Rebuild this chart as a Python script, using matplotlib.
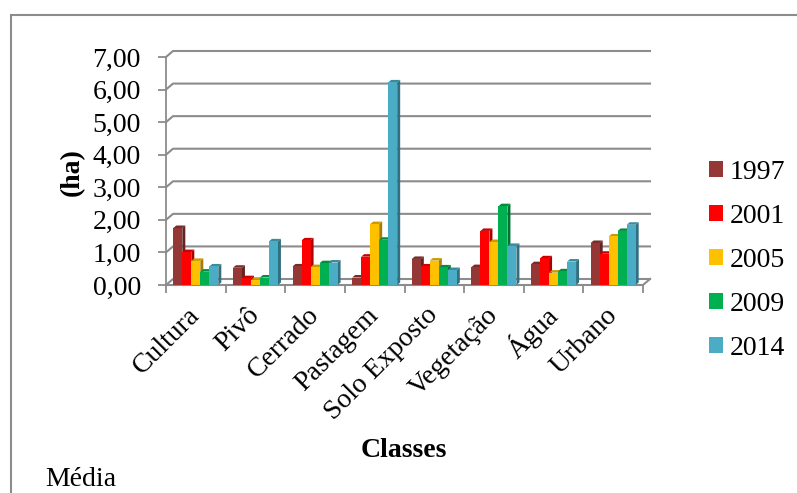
import matplotlib
matplotlib.use("Agg")
import matplotlib.pyplot as plt
from matplotlib.patches import Polygon, Rectangle
from matplotlib.lines import Line2D
import numpy as np

categories = ["Cultura", "Pivô", "Cerrado", "Pastagem", "Solo Exposto", "Vegetação", "Água", "Urbano"]
years = ["1997", "2001", "2005", "2009", "2014"]
v1997 = [1.75, 0.53, 0.57, 0.23, 0.80, 0.55, 0.64, 1.29]
v2001 = [1.01, 0.21, 1.37, 0.87, 0.57, 1.66, 0.82, 0.96]
v2005 = [0.74, 0.16, 0.55, 1.87, 0.75, 1.32, 0.38, 1.49]
v2009 = [0.41, 0.23, 0.67, 1.39, 0.54, 2.42, 0.42, 1.66]
v2014 = [0.57, 1.34, 0.69, 6.22, 0.46, 1.20, 0.72, 1.85]
yticks = [0, 1, 2, 3, 4, 5, 6, 7]
ytick_labels = ["0,00", "1,00", "2,00", "3,00", "4,00", "5,00", "6,00", "7,00"]
series = [v1997, v2001, v2005, v2009, v2014]
colors = ["#953735", "#FF0000", "#FFC000", "#00B050", "#4BACC6"]

plt.rcParams['font.family'] = ['Liberation Serif', 'DejaVu Serif']
FS = 20
W, H = 797, 493
fig = plt.figure(figsize=(W / 100, H / 100), dpi=100)

# axes in pixel geometry (front plane)
x0, x1 = 166, 643
y0, y1 = 285, 57
ax = fig.add_axes([x0 / W, 1 - y0 / H, (x1 - x0) / W, (y0 - y1) / H])
n = len(categories)
ax.set_xlim(0, n)
ax.set_ylim(0, 7)
ax.set_facecolor('none')
for s in ['top', 'right', 'bottom']:
    ax.spines[s].set_visible(False)
ax.spines['left'].set_color('#8c8c8c')
ax.spines['left'].set_linewidth(1.3)

pxx = (x1 - x0) / n        # pixels per x unit
pxy = (y0 - y1) / 7        # pixels per y unit
# back-wall offset and bar depth offset (px -> data)
wdx, wdy = 7 / pxx, 6 / pxy
bdx, bdy = 3 / pxx, 2.5 / pxy

grid_c = '#8c8c8c'
for v in yticks:
    ax.add_line(Line2D([0, wdx, n + wdx], [v, v + wdy, v + wdy], color=grid_c, lw=1.5,
                       zorder=1, clip_on=False))
# floor front edge and right end
ax.add_line(Line2D([0, n, n + wdx], [0, 0, wdy], color=grid_c, lw=1.5, zorder=1, clip_on=False))

ax.set_yticks(yticks)
ax.set_yticklabels(ytick_labels, fontsize=FS)
ax.tick_params(axis='y', length=6, width=1.3, color=grid_c, pad=12)
ax.set_xticks(np.arange(n + 1), minor=True)
ax.set_xticks(np.arange(n) + 0.5)
ax.set_xticklabels(categories, fontsize=FS, rotation=45, ha='right', va='center',
                   rotation_mode='anchor')
ax.tick_params(axis='x', which='major', length=0, pad=19)
ax.tick_params(axis='x', which='minor', length=6, width=1.3, color=grid_c)


def shade(c, f):
    r, g, b = matplotlib.colors.to_rgb(c)
    return (r * f, g * f, b * f)


bw = 9 / pxx
z = 3
for i in range(n):
    for j, (vals, col) in enumerate(zip(series, colors)):
        h = vals[i]
        left = i + 0.5 - 2.5 * bw + j * bw
        right = left + bw
        ax.add_patch(Polygon([[right, 0], [right + bdx, bdy], [right + bdx, h + bdy], [right, h]],
                             closed=True, fc=shade(col, 0.65), ec='none', zorder=z))
        ax.add_patch(Polygon([[left, h], [left + bdx, h + bdy], [right + bdx, h + bdy], [right, h]],
                             closed=True, fc=shade(col, 0.8), ec='none', zorder=z))
        ax.bar(left, h, width=bw, align='edge', color=col, zorder=z + 1, linewidth=0)
        z += 2

ax.set_ylabel("(ha)", fontsize=FS, fontweight='bold')
ax.yaxis.set_label_coords((85 - x0) / (x1 - x0), (y0 - 172) / (y0 - y1))
ax.set_xlabel("Classes", fontsize=FS, fontweight='bold')
ax.xaxis.set_label_coords((404 - x0) / (x1 - x0), (y0 - 438) / (y0 - y1))

handles = [Rectangle((0, 0), 1, 1, fc=c, ec='none') for c in colors]
fig.legend(handles, years, loc='upper left', bbox_to_anchor=(709 / W, 1 - 160 / H),
           frameon=False, fontsize=FS, handlelength=0.5, handleheight=0.5,
           handletextpad=0.25, labelspacing=0.68, borderpad=0, borderaxespad=0)

fig.text(45 / W, 0.5 / H, "Média", fontsize=FS, ha='left', va='bottom')

# outer frame (clipped at right/bottom)
fig.add_artist(Rectangle((11 / W, -0.1), 1.2, 1 - 15 / H + 0.1, transform=fig.transFigure,
                         fill=False, ec='#8c8c8c', lw=1.5))

fig.savefig("out.png", dpi=100)
